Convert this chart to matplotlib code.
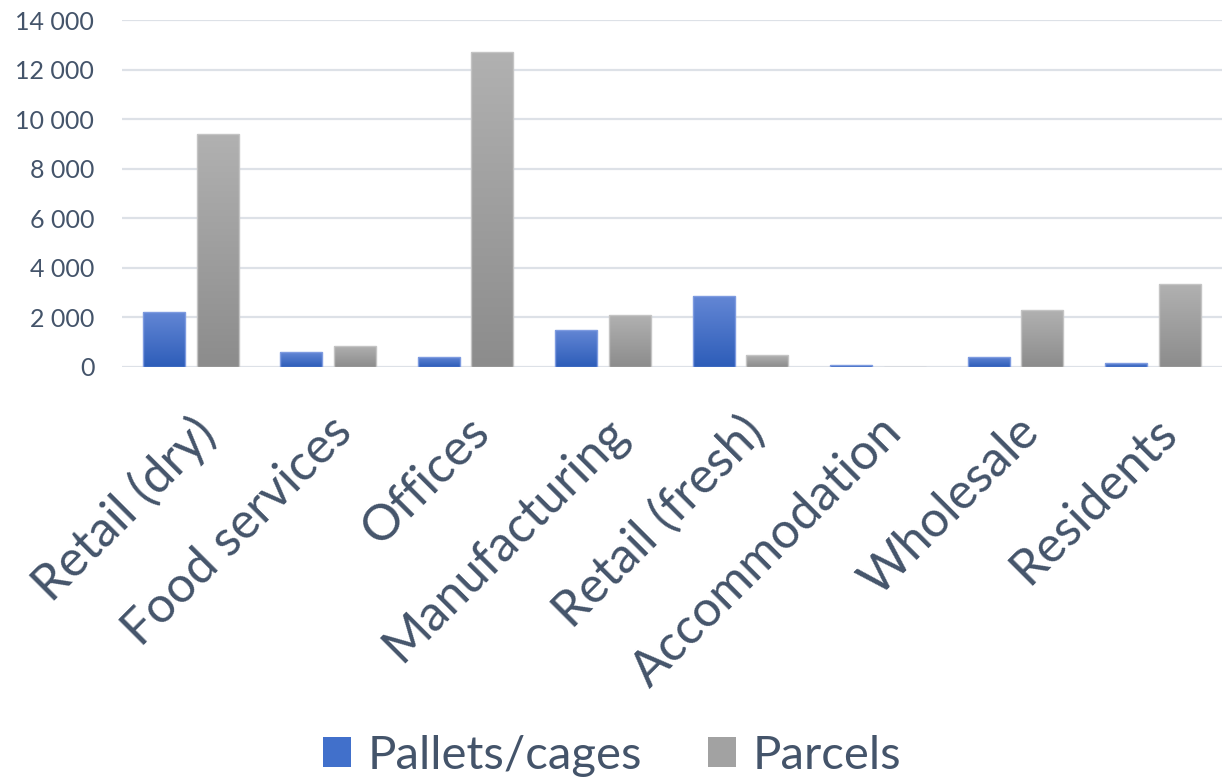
import numpy as np
import matplotlib.pyplot as plt
from matplotlib.patches import Patch
from matplotlib.colors import LinearSegmentedColormap

categories = ['Retail (dry)', 'Food services', 'Offices', 'Manufacturing',
              'Retail (fresh)', 'Accommodation', 'Wholesale', 'Residents']
pallets = [2230, 600, 420, 1510, 2880, 90, 420, 160]
parcels = [9400, 850, 12700, 2100, 480, 0, 2290, 3330]
yticks = [0, 2000, 4000, 6000, 8000, 10000, 12000, 14000]

text_col = '#44546A'
plt.rcParams['font.family'] = ['Lato', 'DejaVu Sans']

blue_map = LinearSegmentedColormap.from_list('b', ['#2D5DB9', '#6487D5'])
grey_map = LinearSegmentedColormap.from_list('g', ['#8C8C8C', '#B1B1B1'])

fig = plt.figure(figsize=(12.24, 7.79), dpi=100)
ax = fig.add_axes([0.0997, 0.529, 0.8983, 0.445])

x = np.arange(len(categories))
w = 0.305
off = 0.195
grad = np.linspace(0, 1, 256).reshape(-1, 1)


def gradient_bars(xpos, vals, cmap, edge):
    bars = ax.bar(xpos, vals, w, color='none', edgecolor=edge, linewidth=1.0, zorder=3)
    for b in bars:
        h = b.get_height()
        if h <= 0:
            continue
        x0 = b.get_x()
        im = ax.imshow(grad, cmap=cmap, origin='lower', aspect='auto',
                       extent=(x0, x0 + b.get_width(), 0, h), zorder=2)
        im.set_clip_path(b)
    return bars


gradient_bars(x - off, pallets, blue_map, '#7E9BE0')
gradient_bars(x + off, parcels, grey_map, '#C4C4C4')

ax.set_xlim(-0.5, len(categories) - 0.5)
ax.set_ylim(0, 14000)
ax.set_yticks(yticks)
ax.set_yticklabels([f'{v:,}'.replace(',', ' ') for v in yticks])
ax.set_xticks(x)
ax.set_xticklabels(categories, rotation=45, ha='right', rotation_mode='anchor')

ax.yaxis.grid(True, color='#DDE1E7', linewidth=1.6, zorder=0)
ax.set_axisbelow(True)
for s in ax.spines.values():
    s.set_visible(False)
ax.tick_params(axis='both', length=0, colors=text_col)
ax.tick_params(axis='y', labelsize=18, pad=20)
ax.tick_params(axis='x', labelsize=36, pad=30)

handles = [Patch(facecolor='#4170CB', edgecolor='none'),
           Patch(facecolor='#A2A2A2', edgecolor='none')]
fig.legend(handles, ['Pallets/cages', 'Parcels'], loc='center',
           bbox_to_anchor=(0.5, 0.03), ncol=2, frameon=False,
           fontsize=34, labelcolor=text_col, handlelength=0.6,
           handleheight=0.6, handletextpad=0.35, columnspacing=1.4)

fig.savefig('out.png', dpi=100)
